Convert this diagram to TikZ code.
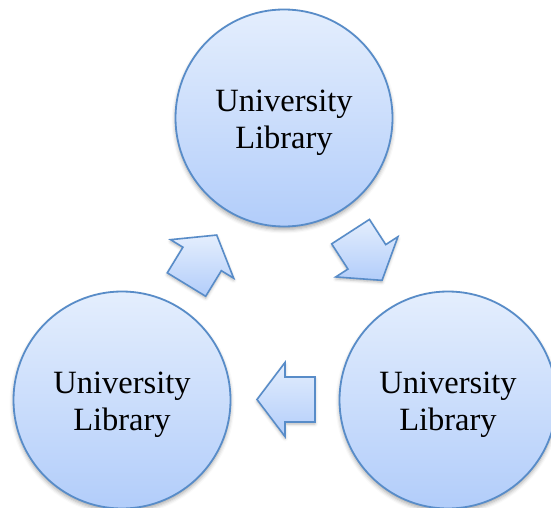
\documentclass[tikz,border=0pt]{standalone}
\usepackage{fontspec}
\setmainfont{Liberation Serif}
\usetikzlibrary{shadows.blur}
\definecolor{lineblue}{RGB}{88,140,200}
\definecolor{filltop}{RGB}{228,238,253}
\definecolor{fillbot}{RGB}{178,205,250}
\tikzset{
  libcircle/.style={circle, draw=lineblue, line width=1.8pt, minimum size=217pt, inner sep=0pt,
    top color=filltop, bottom color=fillbot, align=center,
    font=\fontsize{32.5}{37}\selectfont,
    blur shadow={shadow xshift=0pt, shadow yshift=-3pt, shadow blur radius=4pt, shadow opacity=35}},
  cyclearrow/.style={draw=lineblue, line width=1.6pt, line join=miter,
    top color=filltop, bottom color=fillbot,
    blur shadow={shadow xshift=0pt, shadow yshift=-2pt, shadow blur radius=3pt, shadow opacity=30}}
}
\newcommand{\arrowpath}{(29,0) -- (1,37) -- (1,22.5) -- (-29,22.5) -- (-29,-22.5) -- (1,-22.5) -- (1,-37) -- cycle}
\newcommand{\libtext}{\rule{0pt}{31pt}University\\Library}
\begin{document}
\begin{tikzpicture}[x=1pt, y=-1pt]
\useasboundingbox (0,0) rectangle (551,508);
\node[libcircle] (top) at (284,118) {\libtext};
\node[libcircle] (left) at (122,400) {\libtext};
\node[libcircle] (right) at (448,400) {\libtext};
\path[cyclearrow, shift={(201.6,259.8)}, rotate=58.6] \arrowpath;
\path[cyclearrow, shift={(366.3,256)}, rotate=-57.1] \arrowpath;
\path[cyclearrow, shift={(286,399.5)}, rotate=180] \arrowpath;
\end{tikzpicture}
\end{document}
